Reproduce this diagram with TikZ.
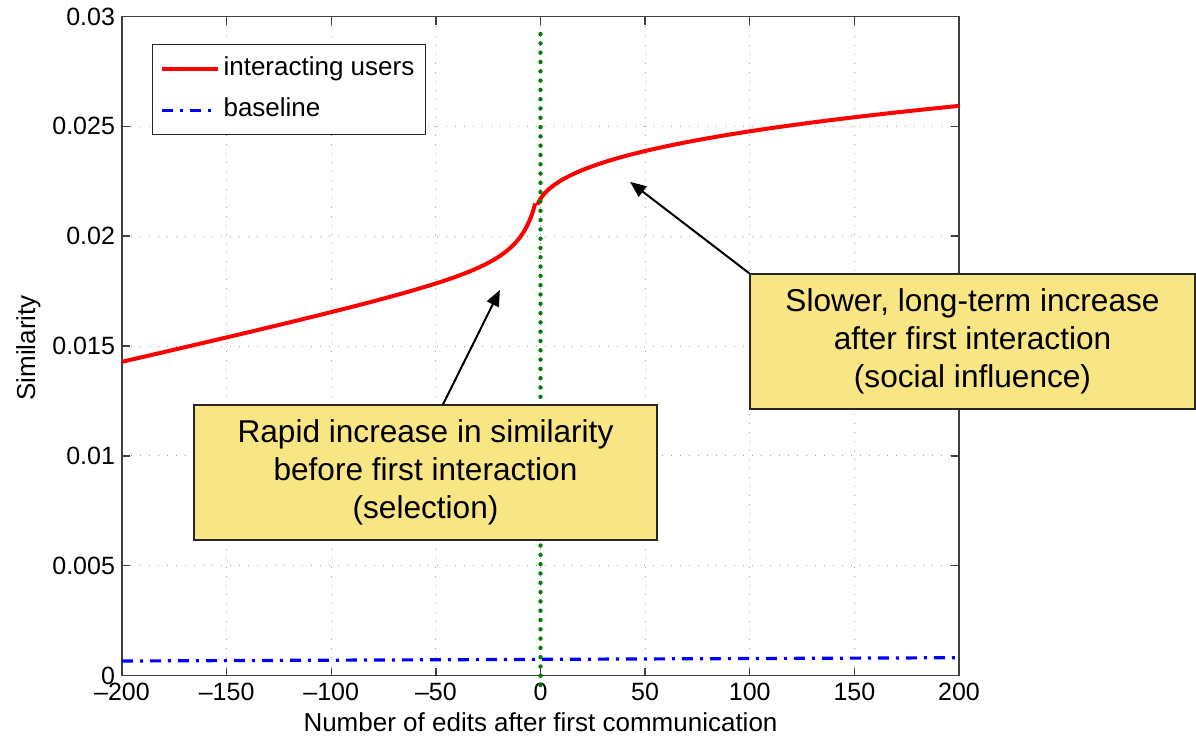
\documentclass[tikz,border=0pt]{standalone}
\usepackage{fontspec}
\setmainfont{Liberation Sans}
\usepackage{pgfplots}
\pgfplotsset{compat=1.18}
\usetikzlibrary{arrows.meta, positioning}
\definecolor{mred}{HTML}{FF0000}
\definecolor{mblue}{HTML}{0000FF}
\definecolor{mgreen}{HTML}{008000}
\definecolor{mgrid}{HTML}{A0A0A0}
\definecolor{maxis}{HTML}{404040}
\definecolor{mnote}{HTML}{F8E583}
\tikzset{
  notebox/.style={draw=black!85, fill=mnote, line width=0.6pt, align=center,
                  inner sep=0pt, minimum height=67.5pt,
                  font=\fontsize{15.8}{19}\selectfont},
  notearr/.style={-{Triangle[length=8pt,width=6.5pt]}, line width=1pt, black},
  zeroline/.style={mgreen, line width=2.2pt, line cap=round,
                   dash pattern=on 0pt off 4.65pt},
  simcurve/.style={mred, line width=2pt, line join=round, no markers},
  basecurve/.style={mblue, line width=1.6pt,
                    dash pattern=on 5.5pt off 3.5pt on 1.5pt off 3.5pt},
}

\begin{document}
\begin{tikzpicture}[x=0.5pt, y=-0.5pt]
  \useasboundingbox (0,0) rectangle (1196,739);

  \begin{axis}[
    at={(61pt,-337.75pt)}, anchor=south west,
    scale only axis, width=418.5pt, height=329.5pt,
    xmin=-200, xmax=200, ymin=0, ymax=0.03,
    xtick={-200,-150,...,200},
    xticklabels={–200,–150,–100,–50,0,50,100,150,200},
    ytick={0,0.005,0.01,0.015,0.02,0.025,0.03},
    yticklabels={0,0.005,0.01,0.015,0.02,0.025,0.03},
    scaled y ticks=false,
    tick align=inside, major tick length=4pt,
    axis line style={maxis, line width=0.9pt},
    tick style={maxis, line width=0.7pt},
    grid=major,
    major grid style={mgrid, line width=0.5pt, dash pattern=on 0.5pt off 4pt},
    ticklabel style={font=\fontsize{12.5}{15}\selectfont},
    label style={font=\fontsize{13}{15}\selectfont},
    xlabel={Number of edits after first communication},
    xlabel style={at={(axis description cs:0.5,-0.0706)}, anchor=center},
    ylabel={Similarity},
    ylabel style={at={(axis description cs:-0.1117,0.497)}, anchor=center, rotate=0},
    clip=false,
    legend cell align=left,
    legend image code/.code={\draw[#1] (0pt,0pt) -- (28pt,0pt);},
    legend style={at={(0.0358,0.958)}, anchor=north west, draw=black!85,
                  line width=0.6pt, inner xsep=3.5pt, inner ysep=4pt,
                  row sep=4pt, font=\fontsize{13}{15}\selectfont,
                  nodes={inner sep=2pt, text height=9.5pt, text depth=3pt}},
  ]
    % before and after the first interaction
    \addplot[simcurve, domain=-200:-2.5, samples=160]
      {0.0184 + 0.0000213*x + 0.029135/(6.78-x)};
    \addlegendentry{interacting users}
    \addplot[simcurve, forget plot, domain=-1.5:200, samples=160]
      {0.020453 + 0.000853*(x+3)^0.35};
    \addplot[basecurve] coordinates {(-200,0.00066) (200,0.00081)};
    \addlegendentry{baseline}

    \draw[zeroline] (axis cs:0,0.0292) -- (axis cs:0,-0.0006);

    \coordinate (seltip) at (axis cs:-19.4,0.01755);
    \coordinate (infltip) at (axis cs:42.8,0.02247);
  \end{axis}

  \node[notebox, minimum width=231.5pt] (rapid) at (425.5,472.5)
    {Rapid increase in similarity\\before first interaction\\(selection)};
  \node[notebox, minimum width=222.5pt] (social) at (972.5,341.5)
    {Slower, long-term increase\\after first interaction\\(social influence)};

  \draw[notearr] ([xshift=8.75pt]rapid.north) -- (seltip);
  \draw[notearr] (social.north west) -- (infltip);
\end{tikzpicture}
\end{document}
